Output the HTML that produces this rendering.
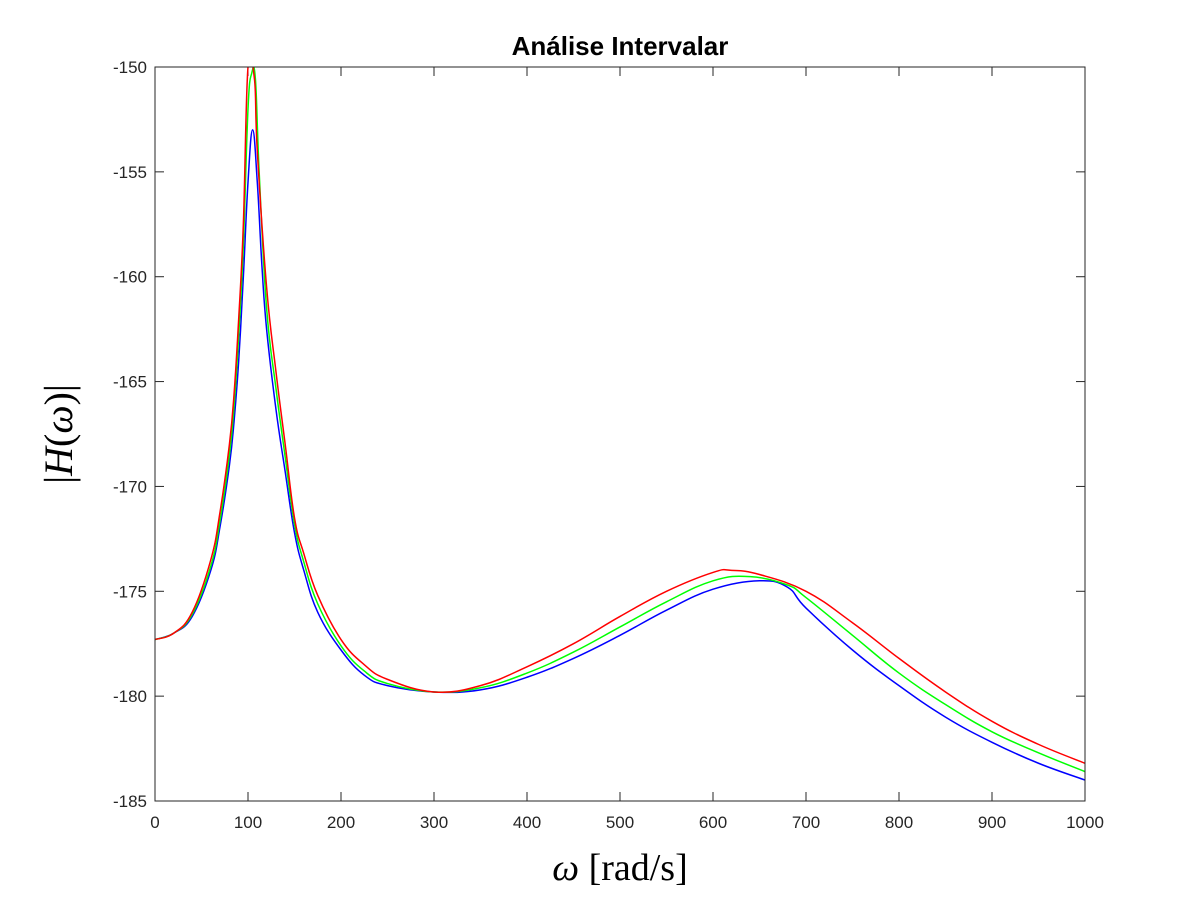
<!DOCTYPE html>
<html><head><meta charset="utf-8"><style>
body{margin:0;background:#fff}
.sans{font-family:"Liberation Sans",sans-serif}
.serif{font-family:"Liberation Serif",serif}
</style></head><body>
<svg id="chart" width="1200" height="900">
<defs><clipPath id="clip"><rect x="155" y="67" width="930" height="734"/></clipPath></defs>
<rect x="0" y="0" width="1200" height="900" fill="#fff"/>
<rect x="155" y="67" width="930" height="734" fill="#fff"/>
<g id="ticks"></g>
<g id="series" clip-path="url(#clip)"></g>
<rect x="155" y="67" width="930" height="734" fill="none" stroke="#262626" stroke-width="1"/>
<text class="sans" x="620" y="55" text-anchor="middle" font-size="26" font-weight="bold" fill="#000">Análise Intervalar</text>
<text class="serif" x="620" y="880" text-anchor="middle" font-size="38" fill="#000"><tspan font-style="italic">ω</tspan> [rad/s]</text>
<text class="serif" transform="translate(72,434) rotate(-90)" text-anchor="middle" font-size="40" fill="#000">|<tspan font-style="italic">H</tspan>(<tspan font-style="italic">ω</tspan>)|</text>
</svg>
<script>
const xTicks=[0,100,200,300,400,500,600,700,800,900,1000];
const yTicks=[-150,-155,-160,-165,-170,-175,-180,-185];
const redX=[0,20,40,60,70,80,85,90,95,100,107,110,120,130,140,150,160,175,200,225,250,300,350,400,450,500,550,600,620,650,700,750,800,850,900,950,1000];
const redY=[-177.3,-177.0,-176.0,-173.5,-171.2,-168,-165.6,-162,-157.5,-150,-150.6,-154,-160.5,-164.5,-168,-171.5,-173.2,-175.2,-177.3,-178.5,-179.2,-179.8,-179.5,-178.6,-177.5,-176.2,-175,-174.1,-174,-174.2,-175,-176.5,-178.2,-179.8,-181.2,-182.3,-183.2];
const greenX=[0,20,40,60,70,80,85,90,95,100,104,108,112,120,130,140,150,160,175,200,225,250,300,350,400,450,500,550,600,640,680,700,750,800,850,900,950,1000];
const greenY=[-177.3,-177.0,-176.1,-173.8,-171.6,-168.5,-166.2,-162.8,-158.5,-152,-150.3,-150.6,-155,-161.5,-165.3,-168.6,-171.8,-173.6,-175.6,-177.6,-178.8,-179.4,-179.8,-179.6,-178.9,-177.9,-176.7,-175.5,-174.5,-174.3,-174.7,-175.3,-177.1,-178.9,-180.4,-181.7,-182.7,-183.6];
const blueX=[0,20,40,60,70,80,85,90,95,100,105,110,115,120,130,140,150,160,175,200,225,250,300,350,400,450,500,550,600,650,680,700,750,800,850,900,950,1000];
const blueY=[-177.3,-177.0,-176.2,-174.0,-171.9,-169,-166.9,-164,-160,-155.5,-153,-155.5,-159.5,-162.5,-166.3,-169.3,-172.2,-174,-176,-177.8,-179,-179.5,-179.8,-179.7,-179.1,-178.2,-177.1,-175.9,-174.9,-174.5,-174.8,-175.8,-177.8,-179.5,-181,-182.2,-183.2,-184];
const X0=155,X1=1085,Y0=67,Y1=801;
const sx=v=>X0+(v-0)/(1000-0)*(X1-X0);
const sy=v=>Y0+(-150-v)/35*(Y1-Y0);
const NS='http://www.w3.org/2000/svg';
const tg=document.getElementById('ticks');
function mk(t,a){const e=document.createElementNS(NS,t);for(const k in a)e.setAttribute(k,a[k]);return e;}
xTicks.forEach(v=>{
 const x=sx(v);
 const l1=mk('line',{x1:x,x2:x,y1:Y1,y2:Y1-9,stroke:'#262626'});
 
 
 tg.appendChild(l1);
 const l2=mk('line',{x1:x,x2:x,y1:Y0,y2:Y0+9,stroke:'#262626'});
 
 
 tg.appendChild(l2);
 const t=mk('text',{x:x,y:Y1+27,'text-anchor':'middle','font-size':'17',fill:'#262626','class':'sans'});
 
 
 t.textContent=v;tg.appendChild(t);
});
yTicks.forEach(v=>{
 const y=sy(v);
 const l1=mk('line',{x1:X0,x2:X0+9,y1:y,y2:y,stroke:'#262626'});
 
 
 tg.appendChild(l1);
 const l2=mk('line',{x1:X1,x2:X1-9,y1:y,y2:y,stroke:'#262626'});
 
 
 tg.appendChild(l2);
 const t=mk('text',{x:X0-8,y:y+6,'text-anchor':'end','font-size':'17',fill:'#262626','class':'sans'});
 
 
 t.textContent=v;tg.appendChild(t);
});
function smooth(pts){
 let d='M'+pts[0][0]+','+pts[0][1];
 for(let i=0;i<pts.length-1;i++){
  const p0=pts[Math.max(0,i-1)],p1=pts[i],p2=pts[i+1],p3=pts[Math.min(pts.length-1,i+2)];
  const k=0.2;
  const c1=[p1[0]+(p2[0]-p0[0])*k,p1[1]+(p2[1]-p0[1])*k];
  const c2=[p2[0]-(p3[0]-p1[0])*k,p2[1]-(p3[1]-p1[1])*k];
  d+=' C'+c1+' '+c2+' '+p2;
 }
 return d;
}
const sg=document.getElementById('series');
[[blueX,blueY,'#0000ff','series-blue'],[greenX,greenY,'#00ff00','series-green'],[redX,redY,'#ff0000','series-red']].forEach(([xs,ys,c,n])=>{
 const p=mk('path',{d:smooth(xs.map((x,i)=>[sx(x),sy(ys[i])])),fill:'none',stroke:c,'stroke-width':'1.5','stroke-linejoin':'round'});
 
 
 sg.appendChild(p);
});
</script>
</body></html>
